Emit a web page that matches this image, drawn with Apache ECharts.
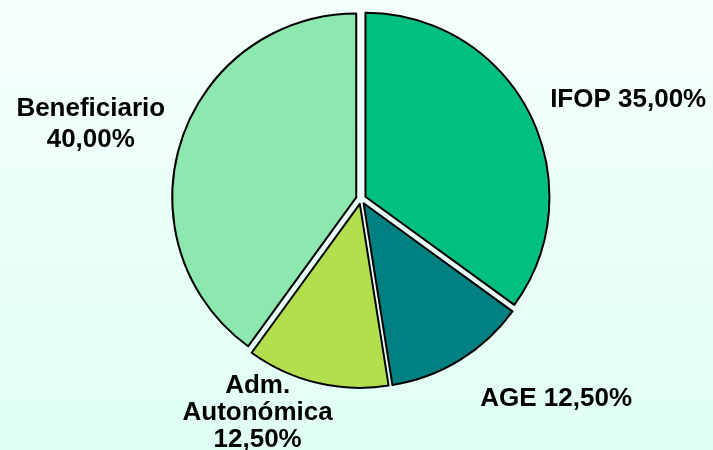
<!DOCTYPE html>
<html>
<head>
<meta charset="utf-8">
<script src="https://cdn.jsdelivr.net/npm/echarts@6/dist/echarts.min.js"></script>
<style>
  html, body { margin: 0; padding: 0; }
  #chart { width: 713px; height: 450px; }
</style>
</head>
<body>
<div id="chart"></div>
<script>
// ---- data ----
var categories = ['IFOP', 'AGE', 'Adm.\nAutonómica', 'Beneficiario'];
var values = [35, 12.5, 12.5, 40];
var labelSeparators = [' ', ' ', '\n', '\n'];

// ---- styles ----
var colors = ['#00BF7F', '#008080', '#B3DF4F', '#8DE8B0'];
var lineLengths = [[30, -11], [45, -8], [31, -38], [52, -49]];
var richStyle = ['p', 'p', 'm', 'w'];

var chart = echarts.init(document.getElementById('chart'));

var data = categories.map(function (c, i) {
  return {
    name: c, value: values[i], selected: true,
    itemStyle: { color: colors[i] },
    labelLine: { show: false, length: lineLengths[i][0], length2: lineLengths[i][1] }
  };
});

var font = { fontFamily: 'Liberation Sans, Arial, sans-serif', fontWeight: 'bold', fontSize: 26, color: '#000' };

chart.setOption({
  animation: false,
  backgroundColor: {
    type: 'linear', x: 0, y: 0, x2: 0, y2: 1,
    colorStops: [{ offset: 0, color: '#F5FFFD' }, { offset: 1, color: '#E0FFF5' }]
  },
  series: [{
    type: 'pie',
    center: [361, 199],
    radius: 184,
    startAngle: 90,
    clockwise: true,
    selectedMode: 'multiple',
    selectedOffset: 5,
    avoidLabelOverlap: false,
    silent: true,
    itemStyle: { borderColor: '#000', borderWidth: 2 },
    label: {
      show: true,
      position: 'outside',
      fontFamily: font.fontFamily,
      fontWeight: 'bold',
      fontSize: 26,
      color: '#000',
      formatter: function (p) {
        var s = richStyle[p.dataIndex];
        var txt = p.name + labelSeparators[p.dataIndex] + p.value.toFixed(2).replace('.', ',') + '%';
        return txt.split('\n').map(function (line) { return '{' + s + '|' + line + '}'; }).join('\n');
      },
      rich: {
        p: Object.assign({ lineHeight: 28 }, font),
        m: Object.assign({ lineHeight: 27, width: 170, align: 'center' }, font),
        w: Object.assign({ lineHeight: 31, width: 170, align: 'center' }, font)
      }
    },
    labelLine: { show: false },
    emphasis: { disabled: true },
    data: data
  }]
});
</script>
</body>
</html>
